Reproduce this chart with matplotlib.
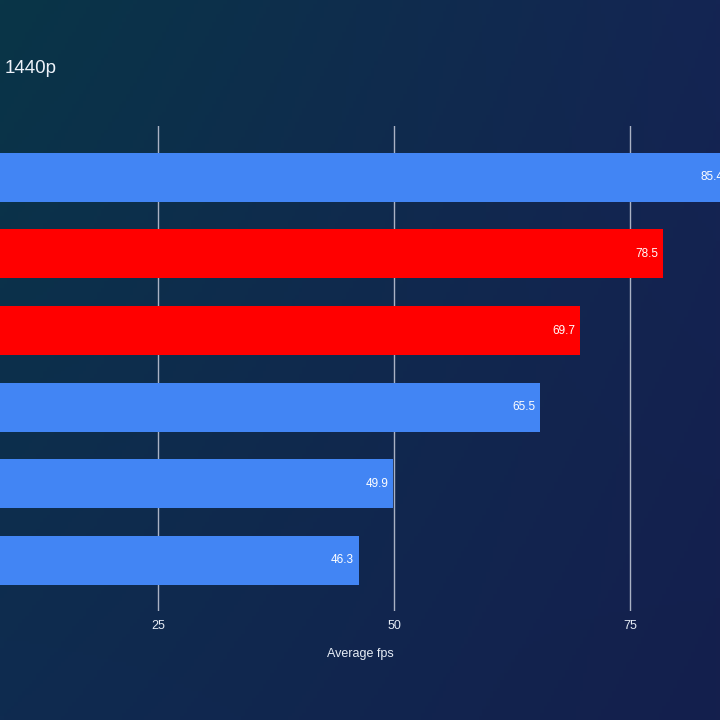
import numpy as np
import matplotlib
matplotlib.use("Agg")
import matplotlib.pyplot as plt
from matplotlib.colors import to_rgb
from matplotlib.transforms import offset_copy

plt.rcParams["font.family"] = ["Liberation Sans", "DejaVu Sans"]

# ---- data ----
categories = ["Card A", "Card B", "Card C", "Card D", "Card E", "Card F"]
values = [85.4, 78.5, 69.7, 65.5, 49.9, 46.3]
bar_colors = ["#4285f4", "#ff0000", "#ff0000", "#4285f4", "#4285f4", "#4285f4"]
xticks = [25, 50, 75]
title_text = "1440p"
xlabel_text = "Average fps"

fig = plt.figure(figsize=(7.2, 7.2), dpi=100)

# background gradient
bg = fig.add_axes([0, 0, 1, 1], zorder=-10)
h, w = 200, 200
tl, tr, bl, br = [np.array(to_rgb(c)) for c in ("#093547", "#142553", "#0f2b50", "#141f4d")]
yy, xx = np.mgrid[0:1:h*1j, 0:1:w*1j]
img = ((1-xx)[..., None]*(1-yy)[..., None]*tl + xx[..., None]*(1-yy)[..., None]*tr
       + (1-xx)[..., None]*yy[..., None]*bl + xx[..., None]*yy[..., None]*br)
bg.imshow(img, aspect="auto", extent=[0, 1, 0, 1], origin="upper")
bg.axis("off")

ax = fig.add_axes([0, 0.1507, 1, 0.674])
ax.set_facecolor("none")
y = np.arange(len(values))
ax.barh(y, values, height=0.64, color=bar_colors, zorder=3)
ax.set_xlim(8.26, 84.53)
ax.set_ylim(len(values) - 1 + 0.667, -0.667)
ax.set_xticks(xticks)
ax.set_yticks(y)
ax.set_yticklabels([])
ax.tick_params(axis="y", length=0)
ax.tick_params(axis="x", length=0, colors="#e6ecf5", labelsize=9, pad=6)
ax.grid(axis="x", color="#aab2c4", linewidth=1, zorder=1)
for s in ax.spines.values():
    s.set_visible(False)
ax.set_xlabel(xlabel_text, color="#e6ecf5", fontsize=9, labelpad=12)

off = offset_copy(ax.transData, fig=fig, x=-5, y=0, units="dots")
for yi, v in zip(y, values):
    ax.text(v, yi, f"{v:.1f}", transform=off, ha="right", va="center",
            color="white", fontsize=8.5, zorder=4, clip_on=False)

fig.text(0.006, 0.905, title_text, color="#eef3fa", fontsize=13.5, ha="left", va="center")

fig.savefig("out.png", dpi=100)
